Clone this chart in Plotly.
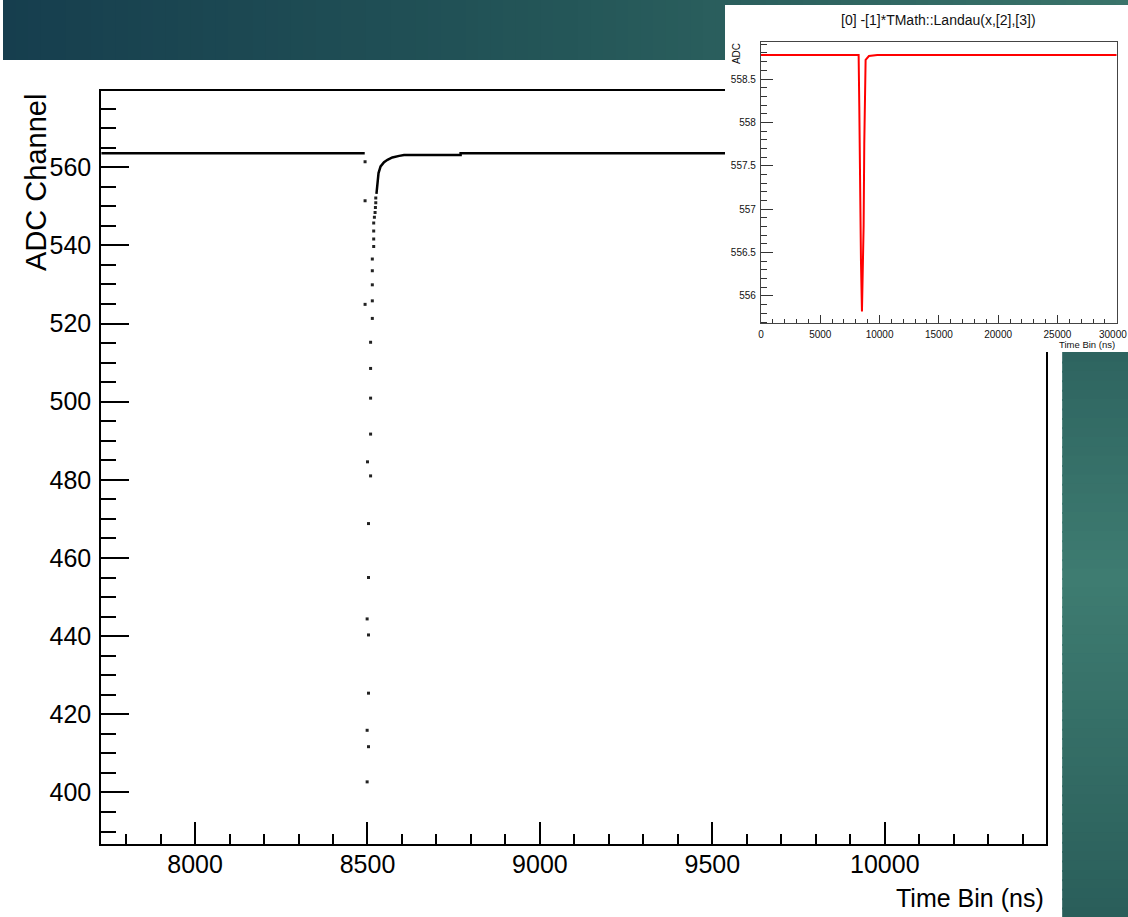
import plotly.graph_objects as go

W, H = 1128, 917

# ---------------- main waveform: ADC samples vs time ----------------
# flat pre-pulse baseline
pre_t = [7728, 8492]
pre_adc = [563.6, 563.6]

# falling edge samples
fall_t = [8493, 8493, 8493, 8500, 8499, 8499, 8499]
fall_adc = [561.4, 551.4, 524.9, 484.6, 444.4, 415.9, 402.7]

# rising edge samples
rise_t = [8503, 8503, 8503, 8503, 8503, 8509, 8509, 8509, 8509, 8509,
          8514, 8514, 8514, 8514, 8514, 8518, 8518, 8518, 8518,
          8520, 8522, 8523, 8524, 8524]
rise_adc = [411.7, 425.4, 440.3, 455.0, 468.8, 481.0, 491.7, 500.9, 508.5, 515.2,
            521.3, 525.8, 529.9, 533.5, 536.5, 539.7, 541.6, 543.7, 545.7,
            547.2, 548.4, 549.7, 550.9, 552.1]

# dense recovery tail and post-pulse baseline
tail_t = [8526, 8528, 8532, 8538, 8548, 8558, 8572, 8592, 8606, 8770, 8770, 10468]
tail_adc = [553.2, 555.9, 558.5, 560.2, 561.3, 561.9, 562.5, 562.9, 563.1, 563.1, 563.6, 563.6]

# ---------------- inset: Landau fit function ----------------
fit_t = [0, 8235, 8291, 8347, 8431, 8515, 8599, 8655, 8711, 8739, 8823, 9104, 9804, 30000]
fit_adc = [558.777, 558.777, 558.18, 557.0, 556.41, 555.82, 556.30, 556.80, 557.76,
           558.22, 558.72, 558.765, 558.777, 558.777]

main_xticks = [8000, 8500, 9000, 9500, 10000]
main_yticks = [400, 420, 440, 460, 480, 500, 520, 540, 560]
inset_xticks = [0, 5000, 10000, 15000, 20000, 25000, 30000]
inset_xticklabels = ["0", "5000", "10000", "15000", "20000", "25000", ""]
inset_last_label = "30000"
inset_yticks = [556, 556.5, 557, 557.5, 558, 558.5]
inset_yticklabels = ["556", "556.5", "557", "557.5", "558", "558.5"]

FONT = "Liberation Sans, Arial, Helvetica, sans-serif"


def px(x):
    return x / W


def py(y):
    return 1 - y / H


def lerp(c0, c1, t):
    return "rgb(%d,%d,%d)" % tuple(round(a + (b - a) * t) for a, b in zip(c0, c1))


fig = go.Figure()

# main subplot
fig.add_trace(go.Scatter(x=pre_t, y=pre_adc, mode="lines",
                         line=dict(color="black", width=2.5), showlegend=False,
                         xaxis="x", yaxis="y"))
fig.add_trace(go.Scatter(x=tail_t, y=tail_adc, mode="lines",
                         line=dict(color="black", width=2.5), showlegend=False,
                         xaxis="x", yaxis="y"))
fig.add_trace(go.Scatter(x=fall_t + rise_t, y=fall_adc + rise_adc, mode="markers",
                         marker=dict(color="#222", size=3, symbol="square"),
                         showlegend=False, xaxis="x", yaxis="y"))

# white panel behind the inset
fig.add_trace(go.Scatter(x=[0, 1, 1, 0, 0], y=[0, 0, 1, 1, 0], mode="lines",
                         fill="toself", fillcolor="white", line=dict(width=0, color="white"),
                         hoverinfo="skip", showlegend=False, xaxis="x2", yaxis="y2"))

# inset subplot
fig.add_trace(go.Scatter(x=fit_t, y=fit_adc, mode="lines",
                         line=dict(color="#ff0000", width=2), showlegend=False,
                         xaxis="x3", yaxis="y3"))

# slide background: gradient header band and right strip
shapes = []
N = 90
c_left, c_mid, c_right = (22, 62, 78), (36, 86, 88), (58, 116, 106)
for i in range(N):
    x0 = W * i / N
    x1 = W * (i + 1) / N + 2
    t = (i + 0.5) / N
    col = lerp(c_left, c_mid, t * 2) if t < 0.5 else lerp(c_mid, c_right, (t - 0.5) * 2)
    shapes.append(dict(type="rect", xref="paper", yref="paper", layer="below",
                       x0=px(x0), x1=px(min(x1, W)), y0=py(60), y1=py(0),
                       fillcolor=col, line=dict(width=0)))
M = 60
s_top, s_mid, s_bot = (46, 100, 96), (62, 124, 113), (42, 94, 90)
y_a, y_b = 352, 917
for i in range(M):
    y0 = y_a + (y_b - y_a) * i / M
    y1 = y_a + (y_b - y_a) * (i + 1) / M + 2
    t = (i + 0.5) / M
    col = lerp(s_top, s_mid, t / 0.4) if t < 0.4 else lerp(s_mid, s_bot, (t - 0.4) / 0.6)
    shapes.append(dict(type="rect", xref="paper", yref="paper", layer="below",
                       x0=px(1062), x1=1, y0=py(min(y1, H)), y1=py(y0),
                       fillcolor=col, line=dict(width=0)))

annotations = [
    dict(text="Time Bin (ns)", xref="paper", yref="paper", x=px(1046), y=py(898),
         xanchor="right", yanchor="middle", showarrow=False,
         font=dict(family=FONT, size=25, color="black")),
    dict(text="ADC Channel", xref="paper", yref="paper", x=px(33), y=py(182),
         xanchor="center", yanchor="middle", textangle=-90, showarrow=False,
         font=dict(family=FONT, size=29, color="black")),
    dict(text="[0] -[1]*TMath::Landau(x,[2],[3])", xref="paper", yref="paper",
         x=px(938), y=py(20), xanchor="center", yanchor="middle", showarrow=False,
         font=dict(family=FONT, size=14, color="#111")),
    dict(text="ADC", xref="paper", yref="paper", x=px(735), y=py(54),
         xanchor="center", yanchor="middle", textangle=-90, showarrow=False,
         font=dict(family=FONT, size=10, color="#111")),
    dict(text="Time Bin (ns)", xref="paper", yref="paper", x=px(1117), y=py(344),
         xanchor="right", yanchor="middle", showarrow=False,
         font=dict(family=FONT, size=9.5, color="#111")),
    # last inset tick label sits against the right edge of the figure
    dict(text=inset_last_label, xref="paper", yref="paper", x=1, y=py(334),
         xanchor="right", yanchor="middle", showarrow=False, borderpad=0,
         font=dict(family=FONT, size=10, color="#111")),
]

fig.update_layout(
    width=W, height=H, autosize=False,
    margin=dict(l=0, r=0, t=0, b=0, pad=0),
    paper_bgcolor="white", plot_bgcolor="white",
    font=dict(family=FONT, color="black"),
    shapes=shapes, annotations=annotations,
    xaxis=dict(domain=[px(98.5), px(1046)], range=[7728, 10468], anchor="y",
               tickvals=main_xticks, tickformat="d", ticks="inside", ticklen=22,
               tickwidth=2, tickcolor="black", showline=True, linewidth=2,
               linecolor="black", mirror=True, showgrid=False, zeroline=False,
               ticklabelstandoff=-3, tickfont=dict(family=FONT, size=25, color="black"),
               minor=dict(dtick=100, tick0=0, ticks="inside", ticklen=10, tickwidth=2,
                          tickcolor="black", showgrid=False)),
    yaxis=dict(domain=[py(844), py(91)], range=[386.8, 579.5], anchor="x",
               tickvals=main_yticks, tickformat="d", ticks="inside", ticklen=28,
               tickwidth=2, tickcolor="black", showline=True, linewidth=2,
               linecolor="black", mirror=True, showgrid=False, zeroline=False,
               ticklabelstandoff=3, tickfont=dict(family=FONT, size=25, color="black"),
               minor=dict(dtick=5, tick0=0, ticks="inside", ticklen=15, tickwidth=2,
                          tickcolor="black", showgrid=False)),
    xaxis2=dict(domain=[px(724), 1], range=[0, 1], anchor="y2", visible=False,
                fixedrange=True),
    yaxis2=dict(domain=[py(352), py(5)], range=[0, 1], anchor="x2", visible=False,
                fixedrange=True),
    xaxis3=dict(domain=[px(760), px(1116.7)], range=[0, 30000], anchor="y3",
                tickvals=inset_xticks, ticktext=inset_xticklabels, ticks="inside",
                ticklen=8, tickwidth=1, tickcolor="#333", showline=True, linewidth=1.2,
                linecolor="#444", mirror=True, showgrid=False, zeroline=False,
                ticklabelstandoff=2, tickfont=dict(family=FONT, size=10, color="#111"),
                minor=dict(dtick=1000, tick0=0, ticks="inside", ticklen=4, tickwidth=1,
                           tickcolor="#333", showgrid=False)),
    yaxis3=dict(domain=[py(323.3), py(41.7)], range=[555.685, 558.93], anchor="x3",
                tickvals=inset_yticks, ticktext=inset_yticklabels, ticks="inside",
                ticklen=12, tickwidth=1, tickcolor="#333", showline=True, linewidth=1.2,
                linecolor="#444", mirror=True, showgrid=False, zeroline=False,
                ticklabelstandoff=2, tickfont=dict(family=FONT, size=10, color="#111"),
                minor=dict(dtick=0.1, tick0=556, ticks="inside", ticklen=6, tickwidth=1,
                           tickcolor="#333", showgrid=False)),
)

fig.write_html("out.html", config=dict(displayModeBar=False))
